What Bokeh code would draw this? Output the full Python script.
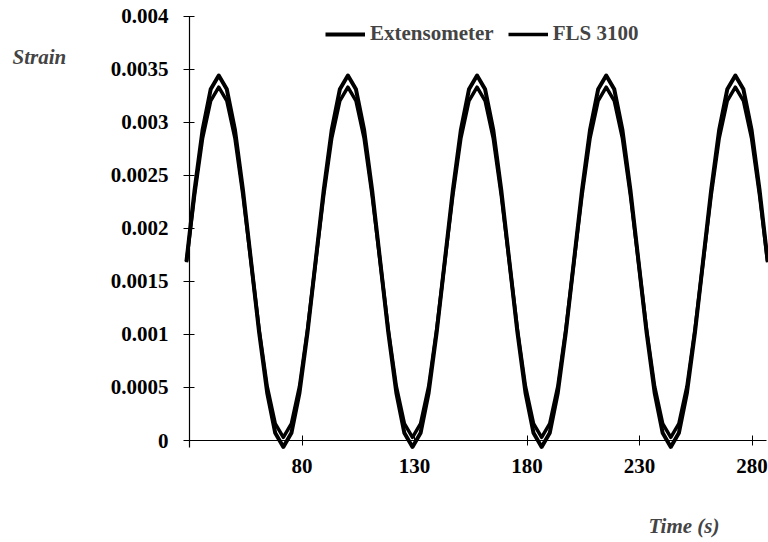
from bokeh.plotting import figure
from bokeh.models import Label, Legend, LegendItem, FixedTicker, NumeralTickFormatter, Range1d
from bokeh.embed import file_html
from bokeh.resources import INLINE

time_s = [28.65, 32.24, 35.83, 39.41, 43.00, 46.59, 50.18, 53.76, 57.35, 60.94, 64.53, 68.11, 71.70, 75.29, 78.88, 82.46,
          86.05, 89.64, 93.23, 96.81, 100.40, 103.99, 107.58, 111.16, 114.75, 118.34, 121.93, 125.51, 129.10, 132.69, 136.28, 139.86,
          143.45, 147.04, 150.63, 154.21, 157.80, 161.39, 164.98, 168.56, 172.15, 175.74, 179.33, 182.91, 186.50, 190.09, 193.68, 197.26,
          200.85, 204.44, 208.03, 211.61, 215.20, 218.79, 222.38, 225.96, 229.55, 233.14, 236.73, 240.31, 243.90, 247.49, 251.08, 254.66,
          258.25, 261.84, 265.43, 269.01, 272.60, 276.19, 279.78, 283.36, 286.95]

extensometer = [0.00169, 0.00236, 0.00293, 0.00331, 0.00344, 0.00331, 0.00293, 0.00236, 0.00169, 0.00102, 0.00045, 0.00007, -0.00006, 0.00007, 0.00045, 0.00102,
                0.00169, 0.00236, 0.00293, 0.00331, 0.00344, 0.00331, 0.00293, 0.00236, 0.00169, 0.00102, 0.00045, 0.00007, -0.00006, 0.00007, 0.00045, 0.00102,
                0.00169, 0.00236, 0.00293, 0.00331, 0.00344, 0.00331, 0.00293, 0.00236, 0.00169, 0.00102, 0.00045, 0.00007, -0.00006, 0.00007, 0.00045, 0.00102,
                0.00169, 0.00236, 0.00293, 0.00331, 0.00344, 0.00331, 0.00293, 0.00236, 0.00169, 0.00102, 0.00045, 0.00007, -0.00006, 0.00007, 0.00045, 0.00102,
                0.00169, 0.00236, 0.00293, 0.00331, 0.00344, 0.00331, 0.00293, 0.00236, 0.00169]

fls3100 = [0.00168, 0.00231, 0.00285, 0.00320, 0.00333, 0.00320, 0.00285, 0.00231, 0.00168, 0.00105, 0.00051, 0.00016, 0.00003, 0.00016, 0.00051, 0.00105,
           0.00168, 0.00231, 0.00285, 0.00320, 0.00333, 0.00320, 0.00285, 0.00231, 0.00168, 0.00105, 0.00051, 0.00016, 0.00003, 0.00016, 0.00051, 0.00105,
           0.00168, 0.00231, 0.00285, 0.00320, 0.00333, 0.00320, 0.00285, 0.00231, 0.00168, 0.00105, 0.00051, 0.00016, 0.00003, 0.00016, 0.00051, 0.00105,
           0.00168, 0.00231, 0.00285, 0.00320, 0.00333, 0.00320, 0.00285, 0.00231, 0.00168, 0.00105, 0.00051, 0.00016, 0.00003, 0.00016, 0.00051, 0.00105,
           0.00168, 0.00231, 0.00285, 0.00320, 0.00333, 0.00320, 0.00285, 0.00231, 0.00168]

x_ticks = [80, 130, 180, 230, 280]
y_ticks = [0, 0.0005, 0.001, 0.0015, 0.002, 0.0025, 0.003, 0.0035, 0.004]

FONT = "Liberation Serif"

# the frame spans the whole canvas; axes are drawn at fixed data locations
p = figure(width=768, height=542, output_backend="svg", toolbar_location=None,
           x_range=Range1d(-54, 287.33), y_range=Range1d(-0.000961, 0.004147),
           min_border=0)
p.outline_line_color = None
p.xgrid.visible = False
p.ygrid.visible = False
p.background_fill_color = "white"
p.border_fill_color = "white"

r_ext = p.line(time_s, extensometer, line_color="black", line_width=4, line_join="round")
r_fls = p.line(time_s, fls3100, line_color="black", line_width=3.5, line_join="round")

xa = p.xaxis[0]
xa.fixed_location = 0
xa.bounds = (30, 286.5)
xa.ticker = FixedTicker(ticks=x_ticks)
xa.minor_tick_line_color = None
xa.major_tick_in = 5
xa.major_tick_out = 5
xa.axis_line_width = 1.2
xa.major_label_standoff = 13
xa.major_label_text_font = FONT
xa.major_label_text_font_style = "bold"
xa.major_label_text_font_size = "21px"
xa.major_label_text_color = "black"

ya = p.yaxis[0]
ya.fixed_location = 30
ya.bounds = (-0.00007, 0.004)
ya.ticker = FixedTicker(ticks=y_ticks)
ya.formatter = NumeralTickFormatter(format="0.[0000]")
ya.minor_tick_line_color = None
ya.major_tick_in = 5
ya.major_tick_out = 6
ya.axis_line_width = 1.2
ya.major_label_standoff = 15
ya.major_label_text_font = FONT
ya.major_label_text_font_style = "bold"
ya.major_label_text_font_size = "21px"
ya.major_label_text_color = "black"

legend = Legend(items=[LegendItem(label="Extensometer", renderers=[r_ext]),
                       LegendItem(label="FLS 3100", renderers=[r_fls])],
                orientation="horizontal", location=(325, 496),
                border_line_color=None, background_fill_alpha=0,
                padding=0, margin=0, spacing=14, glyph_width=40, label_standoff=5,
                label_text_font=FONT, label_text_font_style="bold", label_text_font_size="21px")
p.add_layout(legend, "center")

p.add_layout(Label(x=-48.67, y=0.003619, text="Strain", text_baseline="alphabetic",
                   text_font=FONT, text_font_style="bold italic", text_font_size="21px"))
p.add_layout(Label(x=234, y=-0.000803, text="Time (s)", text_baseline="alphabetic",
                   text_font=FONT, text_font_style="bold italic", text_font_size="21px"))

open("out.html", "w").write(file_html(p, INLINE))
